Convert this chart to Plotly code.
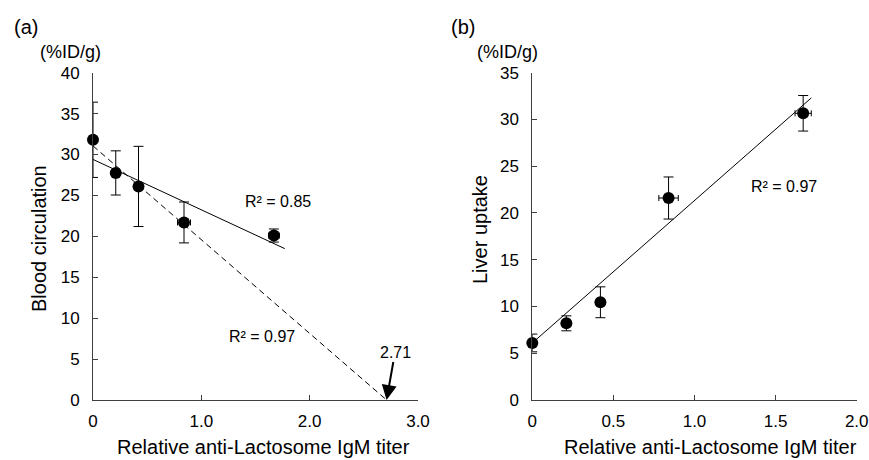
import plotly.graph_objects as go

# ---------------- data ----------------
titer = [0, 0.21, 0.42, 0.84, 1.67]
titer_err = [0, 0.01, 0.02, 0.06, 0.05]

blood = [31.8, 27.75, 26.1, 21.7, 20.1]
blood_err = [4.6, 2.7, 4.9, 2.5, 0.8]

liver = [6.1, 8.2, 10.45, 21.6, 30.66]
liver_err = [0.95, 0.8, 1.65, 2.25, 1.9]

# trend lines
trend_a_all_x = [0, 1.77]
trend_a_all_y = [29.4, 18.5]
trend_a_four_x = [0, 2.71]
trend_a_four_y = [31.05, 0]
trend_b_x = [0, 1.72]
trend_b_y = [6.1, 32.3]

x_ticks_a = [0, 1.0, 2.0, 3.0]
x_ticklabels_a = ["0", "1.0", "2.0", "3.0"]
x_ticks_b = [0, 0.5, 1.0, 1.5, 2.0]
x_ticklabels_b = ["0", "0.5", "1.0", "1.5", "2.0"]
y_ticks_a = [0, 5, 10, 15, 20, 25, 30, 35, 40]
y_ticks_b = [0, 5, 10, 15, 20, 25, 30, 35]

# ---------------- figure ----------------
W, H = 869, 460
FONT = "Liberation Sans, Arial, sans-serif"
AX = "#404040"

fig = go.Figure()

def pts(x, y, ey, ex, xa, ya):
    return go.Scatter(
        x=x, y=y, mode="markers", xaxis=xa, yaxis=ya,
        marker=dict(color="black", size=12),
        error_y=dict(type="data", array=ey, color="black", thickness=1, width=5),
        error_x=dict(type="data", array=ex, color="black", thickness=1, width=3),
        cliponaxis=False, showlegend=False, hoverinfo="skip",
    )

fig.add_trace(go.Scatter(x=trend_a_all_x, y=trend_a_all_y, mode="lines",
                         line=dict(color="black", width=1), xaxis="x", yaxis="y",
                         showlegend=False, hoverinfo="skip"))
fig.add_trace(go.Scatter(x=trend_a_four_x, y=trend_a_four_y, mode="lines",
                         line=dict(color="black", width=1, dash="6px,4px"), xaxis="x", yaxis="y",
                         showlegend=False, hoverinfo="skip"))
fig.add_trace(pts(titer, blood, blood_err, titer_err, "x", "y"))

fig.add_trace(go.Scatter(x=trend_b_x, y=trend_b_y, mode="lines",
                         line=dict(color="black", width=1), xaxis="x2", yaxis="y2",
                         showlegend=False, hoverinfo="skip"))
fig.add_trace(pts(titer, liver, liver_err, titer_err, "x2", "y2"))

def px(x):
    return x / W

def py(y):
    return 1 - y / H

ydom = [py(400), py(72.7)]

common_axis = dict(showline=True, linecolor=AX, linewidth=1, ticks="inside",
                   ticklen=5, tickcolor=AX, tickwidth=1, showgrid=False, zeroline=False,
                   automargin=False,
                   tickfont=dict(family=FONT, size=17, color="black"))

fig.update_layout(
    template="none",
    width=W, height=H, autosize=False,
    margin=dict(l=0, r=0, t=0, b=0, pad=0),
    paper_bgcolor="white", plot_bgcolor="white",
    font=dict(family=FONT, color="black"),
    showlegend=False,
    xaxis=dict(domain=[px(93), px(418)], range=[0, 3], tickvals=x_ticks_a,
               ticktext=x_ticklabels_a, anchor="y", ticklabelstandoff=6, **common_axis),
    yaxis=dict(domain=ydom, range=[0, 40], tickvals=y_ticks_a, anchor="x",
               ticklabelstandoff=9, **common_axis),
    xaxis2=dict(domain=[px(532.3), px(856.7)], range=[0, 2], tickvals=x_ticks_b,
                ticktext=x_ticklabels_b, anchor="y2", ticklabelstandoff=6, **common_axis),
    yaxis2=dict(domain=ydom, range=[0, 35], tickvals=y_ticks_b, anchor="x2",
                ticklabelstandoff=9, **common_axis),
)

def txt(text, x, y, size, angle=0):
    fig.add_annotation(text=text, xref="paper", yref="paper", x=px(x), y=py(y),
                       xanchor="center", yanchor="middle", showarrow=False,
                       textangle=angle, font=dict(family=FONT, size=size, color="black"))

txt("(a)", 25.8, 27, 20)
txt("(b)", 463.3, 27, 20)
txt("(%ID/g)", 70.8, 52.5, 18)
txt("(%ID/g)", 507, 52.5, 18)
txt("Blood circulation", 39, 239, 20, -90)
txt("Liver uptake", 480, 229, 20, -90)
txt("Relative anti-Lactosome IgM titer", 263.3, 447, 20)
txt("Relative anti-Lactosome IgM titer", 710, 447, 20)
txt("R² = 0.85", 278, 201, 16)
txt("R² = 0.97", 261.7, 336, 16)
txt("R² = 0.97", 784, 186.7, 16)

fig.add_annotation(text="2.71", xref="x", yref="y", x=2.71, y=0,
                   ax=8.5, ay=-48, showarrow=True, arrowhead=2, arrowsize=1.5,
                   arrowwidth=2, arrowcolor="black", standoff=0,
                   font=dict(family=FONT, size=16, color="black"))

fig.write_html("out.html", config={"displayModeBar": False},
               post_script="document.body.style.margin='0';document.body.style.overflow='hidden';")
